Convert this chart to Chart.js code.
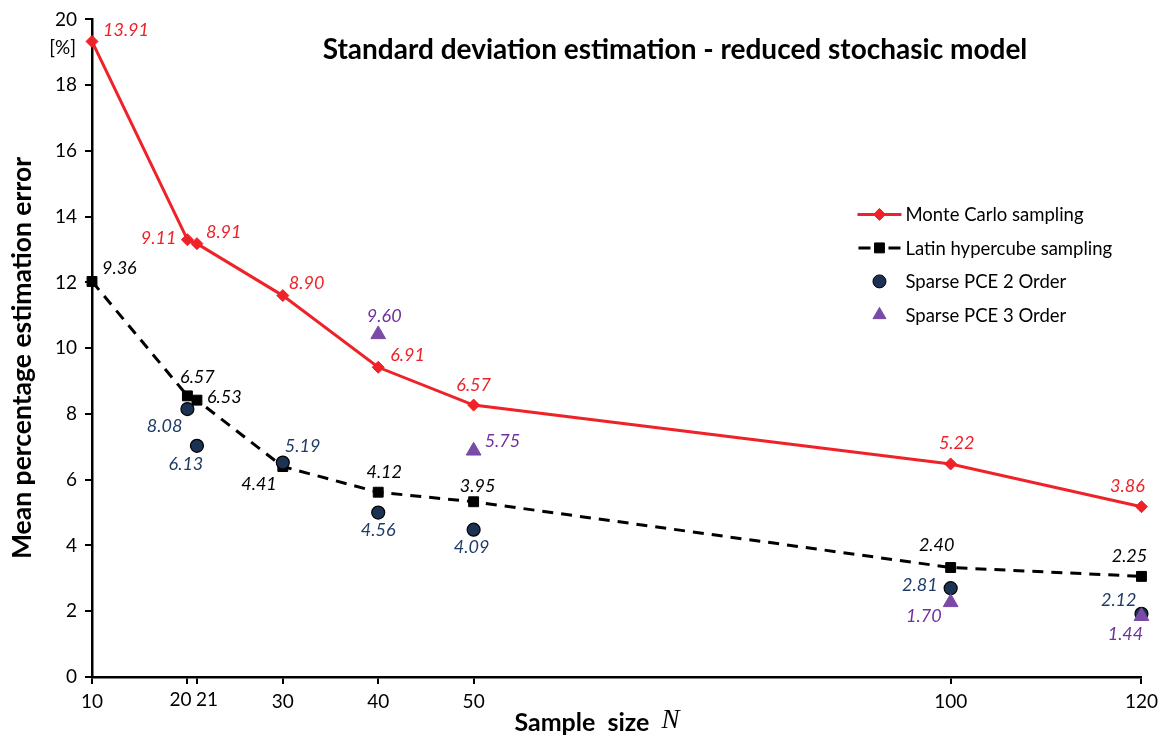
<!DOCTYPE html>
<html>
<head>
<meta charset="utf-8">
<script src="https://cdn.jsdelivr.net/npm/chart.js@4.4.0/dist/chart.umd.min.js"></script>
<style>
  html, body { margin: 0; padding: 0; background: #fff; }
  #wrap { width: 1164px; height: 740px; }
</style>
</head>
<body>
<div id="wrap"><canvas id="chart"></canvas></div>
<script>
var FONT = 'Lato, "Open Sans", sans-serif';

// sample sizes on the x axis
var xTicks = [10, 20, 21, 30, 40, 50, 100, 120];

// Monte Carlo sampling
var mcX = [10, 20, 21, 30, 40, 50, 100, 120];
var mcY = [19.33, 13.30, 13.18, 11.60, 9.42, 8.27, 6.48, 5.18];
var mcLabels = ['13.91', '9.11', '8.91', '8.90', '6.91', '6.57', '5.22', '3.86'];

// Latin hypercube sampling
var lhsX = [10, 20, 21, 30, 40, 50, 100, 120];
var lhsY = [12.03, 8.55, 8.42, 6.40, 5.62, 5.33, 3.33, 3.06];
var lhsLabels = ['9.36', '6.57', '6.53', '4.41', '4.12', '3.95', '2.40', '2.25'];

// Sparse PCE 2 order
var pce2X = [20, 21, 30, 40, 50, 100, 120];
var pce2Y = [8.15, 7.03, 6.52, 5.00, 4.48, 2.70, 1.92];
var pce2Labels = ['8.08', '6.13', '5.19', '4.56', '4.09', '2.81', '2.12'];

// Sparse PCE 3 order
var pce3X = [40, 50, 100, 120];
var pce3Y = [10.42, 6.88, 2.27, 1.85];
var pce3Labels = ['9.60', '5.75', '1.70', '1.44'];

function pts(xs, ys) {
  return xs.map(function(x, i) { return {x: x, y: ys[i]}; });
}

// where each value label sits relative to its marker: [dx, dy, align]
var labelPlacement = {
  mc: [[11, -11, 'left'], [-11, -2, 'right'], [9, -11, 'left'], [6, -12, 'left'],
       [12, -12, 'left'], [0, -20, 'center'], [6, -21, 'center'], [-14, -20, 'center']],
  lhs: [[10, -13, 'left'], [10, -19, 'center'], [10, -3, 'left'], [-6, 18, 'right'],
        [6, -20, 'center'], [4, -16, 'center'], [-14, -22, 'center'], [-12, -20, 'center']],
  pce2: [[-5, 17, 'right'], [-11, 18, 'center'], [2, -16, 'left'], [0, 18, 'center'],
         [-2, 17, 'center'], [-13, -3, 'right'], [-5, -14, 'right']],
  pce3: [[6, -18, 'center'], [11, -10, 'left'], [-9, 14, 'right'], [-16, 18, 'center']]
};

var colors = {
  mc: '#ee2228',
  lhs: '#000000',
  pce2: '#1b3252',
  pce3: '#7a4aa6',
  pce2Text: '#1f3c66',
  pce3Text: '#7030a0'
};

// the two crowded tick labels are nudged apart
var tickNudge = { 20: -7, 21: 10 };

var valueLabels = {
  id: 'valueLabels',
  afterDatasetsDraw: function(chart) {
    var ctx = chart.ctx;
    ctx.save();
    ctx.font = 'italic 18px ' + FONT;
    ctx.textBaseline = 'middle';
    chart.data.datasets.forEach(function(ds, di) {
      var meta = chart.getDatasetMeta(di);
      meta.data.forEach(function(el, i) {
        var p = ds.placement[i];
        ctx.fillStyle = ds.labelColor;
        ctx.textAlign = p[2];
        ctx.fillText(ds.valueLabels[i], el.x + p[0], el.y + p[1]);
      });
    });
    ctx.restore();
  }
};

var decorations = {
  id: 'decorations',
  afterDraw: function(chart) {
    var ctx = chart.ctx;
    var a = chart.chartArea;
    var xs = chart.scales.x;
    ctx.save();
    ctx.fillStyle = '#000';

    // nudged x tick labels
    ctx.font = '19px ' + FONT;
    ctx.textAlign = 'center';
    ctx.textBaseline = 'middle';
    Object.keys(tickNudge).forEach(function(k) {
      ctx.fillText(k, xs.getPixelForValue(+k) + tickNudge[k], a.bottom + 23);
    });

    // title inside the plot
    ctx.font = 'bold 28px ' + FONT;
    ctx.fillText('Standard deviation estimation - reduced stochasic model', a.left + 583, a.top + 31);

    // unit label
    ctx.font = '19px ' + FONT;
    ctx.textAlign = 'right';
    ctx.fillText('[%]', a.left - 16, a.top + 28);

    // y axis title
    ctx.save();
    ctx.translate(22, 358);
    ctx.rotate(-Math.PI / 2);
    ctx.font = 'bold 26.5px ' + FONT;
    ctx.textAlign = 'center';
    ctx.fillText('Mean percentage estimation error', 0, 0);
    ctx.restore();

    // x axis title
    ctx.font = 'bold 25px ' + FONT;
    ctx.textAlign = 'left';
    var t1 = 'Sample  size  ';
    var w1 = ctx.measureText(t1).width;
    ctx.font = 'italic 27px "Liberation Serif", serif';
    var w2 = ctx.measureText('N').width;
    var sx = 597 - (w1 + w2) / 2;
    ctx.font = 'bold 25px ' + FONT;
    ctx.fillText(t1, sx, 723);
    ctx.font = 'italic 27px "Liberation Serif", serif';
    ctx.fillText('N', sx + w1, 721);

    // legend
    var lx = a.right - 284;
    var ly = a.top + 195;
    var step = 33.5;
    ctx.font = '18.5px ' + FONT;
    ctx.textAlign = 'left';
    ctx.textBaseline = 'middle';
    chart.data.datasets.forEach(function(ds, i) {
      var y = ly + i * step;
      var cx = lx + 22;
      if (ds.showLine) {
        ctx.strokeStyle = ds.borderColor;
        ctx.lineWidth = 3;
        ctx.beginPath();
        if (i === 1) {
          ctx.moveTo(lx + 1, y); ctx.lineTo(lx + 13, y);
          ctx.moveTo(lx + 31, y); ctx.lineTo(lx + 43, y);
        } else {
          ctx.moveTo(lx, y); ctx.lineTo(lx + 44, y);
        }
        ctx.stroke();
      }
      ctx.fillStyle = ds.pointBackgroundColor;
      ctx.strokeStyle = ds.pointBorderColor;
      ctx.lineWidth = 1;
      Chart.helpers.drawPoint(ctx, {
        pointStyle: ds.pointStyle, radius: ds.legendRadius, borderWidth: ds.pointBorderWidth
      }, cx, y);
      ctx.fillStyle = '#000';
      ctx.fillText(ds.label, lx + 48, y + 1);
    });
    ctx.restore();
  }
};

var config = {
  type: 'scatter',
  data: {
    datasets: [{
      label: 'Monte Carlo sampling',
      data: pts(mcX, mcY),
      showLine: true,
      borderColor: colors.mc,
      borderWidth: 3,
      pointStyle: 'rectRot',
      pointRadius: 6,
      pointHoverRadius: 6,
      pointBackgroundColor: colors.mc,
      pointBorderColor: colors.mc,
      pointBorderWidth: 1,
      legendRadius: 6,
      labelColor: colors.mc,
      valueLabels: mcLabels,
      placement: labelPlacement.mc,
      order: 3
    }, {
      label: 'Latin hypercube sampling',
      data: pts(lhsX, lhsY),
      showLine: true,
      borderColor: colors.lhs,
      borderWidth: 3,
      borderDash: [11, 8],
      pointStyle: 'rect',
      pointRadius: 7,
      pointHoverRadius: 7,
      pointBackgroundColor: colors.lhs,
      pointBorderColor: colors.lhs,
      pointBorderWidth: 1,
      legendRadius: 7,
      labelColor: colors.lhs,
      valueLabels: lhsLabels,
      placement: labelPlacement.lhs,
      order: 2
    }, {
      label: 'Sparse PCE 2 Order',
      data: pts(pce2X, pce2Y),
      showLine: false,
      pointStyle: 'circle',
      pointRadius: 6.5,
      pointHoverRadius: 6.5,
      pointBackgroundColor: colors.pce2,
      pointBorderColor: '#000',
      pointBorderWidth: 1.2,
      legendRadius: 6.5,
      labelColor: colors.pce2Text,
      valueLabels: pce2Labels,
      placement: labelPlacement.pce2,
      order: 1
    }, {
      label: 'Sparse PCE 3 Order',
      data: pts(pce3X, pce3Y),
      showLine: false,
      pointStyle: 'triangle',
      pointRadius: 8.5,
      pointHoverRadius: 8.5,
      pointBackgroundColor: colors.pce3,
      pointBorderColor: colors.pce3,
      pointBorderWidth: 1,
      legendRadius: 7.5,
      labelColor: colors.pce3Text,
      valueLabels: pce3Labels,
      placement: labelPlacement.pce3,
      order: 0
    }]
  },
  options: {
    responsive: true,
    maintainAspectRatio: false,
    animation: false,
    clip: false,
    layout: { padding: { top: 17, right: 18, left: 0, bottom: 0 } },
    plugins: {
      legend: { display: false },
      title: { display: false },
      tooltip: { enabled: false }
    },
    scales: {
      x: {
        type: 'linear',
        min: 10,
        max: 120,
        afterBuildTicks: function(scale) {
          scale.ticks = xTicks.map(function(v) { return {value: v}; });
        },
        afterFit: function(scale) { scale.height = 63; },
        ticks: {
          autoSkip: false,
          maxRotation: 0,
          color: '#000',
          padding: 6,
          font: { family: FONT, size: 19 },
          callback: function(v) { return tickNudge[v] !== undefined ? '' : v; }
        },
        grid: { drawOnChartArea: false, drawTicks: true, tickLength: 7, color: '#000', lineWidth: 2 },
        border: { color: '#000', width: 2.5 }
      },
      y: {
        min: 0,
        max: 20,
        afterFit: function(scale) { scale.width = 92; },
        ticks: {
          stepSize: 2,
          color: '#000',
          padding: 8,
          font: { family: FONT, size: 19 }
        },
        grid: { drawOnChartArea: false, drawTicks: true, tickLength: 7, color: '#000', lineWidth: 2 },
        border: { color: '#000', width: 2.5 }
      }
    }
  },
  plugins: [valueLabels, decorations]
};

window.onload = function() {
  var ctx = document.getElementById('chart').getContext('2d');
  window.myChart = new Chart(ctx, config);
};
</script>
</body>
</html>
